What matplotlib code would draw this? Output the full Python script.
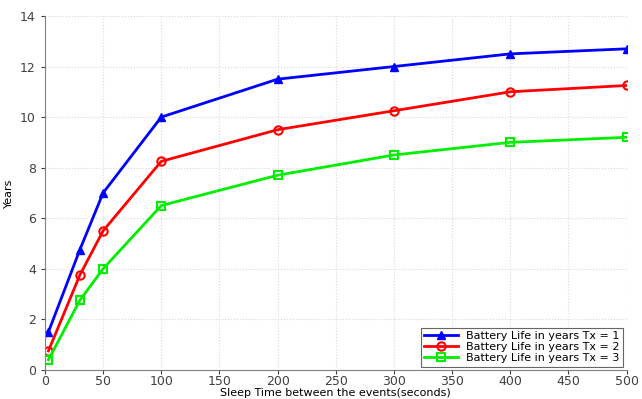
import numpy as np
import matplotlib.pyplot as plt

# Sleep time between events (seconds)
sleep_time = [3, 30, 50, 100, 200, 300, 400, 500]

# Battery life in years for each Tx setting
life_tx1 = [1.5, 4.75, 7.0, 10.0, 11.5, 12.0, 12.5, 12.7]
life_tx2 = [0.75, 3.75, 5.5, 8.25, 9.5, 10.25, 11.0, 11.25]
life_tx3 = [0.4, 2.75, 4.0, 6.5, 7.7, 8.5, 9.0, 9.2]

labels = ['Battery Life in years Tx = 1',
          'Battery Life in years Tx = 2',
          'Battery Life in years Tx = 3']

fig = plt.figure(figsize=(6.42, 3.99), dpi=100)
ax = fig.add_axes([0.070, 0.073, 0.906, 0.887])

ax.plot(sleep_time, life_tx1, color='#0000ff', lw=2, marker='^', ms=6,
        label=labels[0])
ax.plot(sleep_time, life_tx2, color='#ff0000', lw=2, marker='o', ms=6,
        mfc='none', mew=1.5, label=labels[1])
ax.plot(sleep_time, life_tx3, color='#00ee00', lw=2, marker='s', ms=5.5,
        mfc='none', mew=1.5, label=labels[2])

ax.set_xlim(0, 500)
ax.set_ylim(0, 14)
ax.set_xticks(np.arange(0, 501, 50))
ax.set_yticks(np.arange(0, 15, 2))
ax.grid(True, color='#d8d8d8', linestyle=':', linewidth=0.8)

for side in ['top', 'right']:
    ax.spines[side].set_visible(False)
for side in ['left', 'bottom']:
    ax.spines[side].set_color('#808080')
ax.tick_params(colors='#404040', labelsize=9, length=3)
ax.tick_params(axis='x', pad=1)

ax.set_xlabel('Sleep Time between the events(seconds)', fontsize=8, labelpad=0)
ax.set_ylabel('Years', fontsize=8, labelpad=4)

leg = ax.legend(loc='lower right', fontsize=8, fancybox=False,
                edgecolor='#404040', borderaxespad=0.3, handlelength=3,
                labelspacing=0.1, borderpad=0.3)
leg.get_frame().set_linewidth(0.8)

plt.savefig('out.png', dpi=100)
